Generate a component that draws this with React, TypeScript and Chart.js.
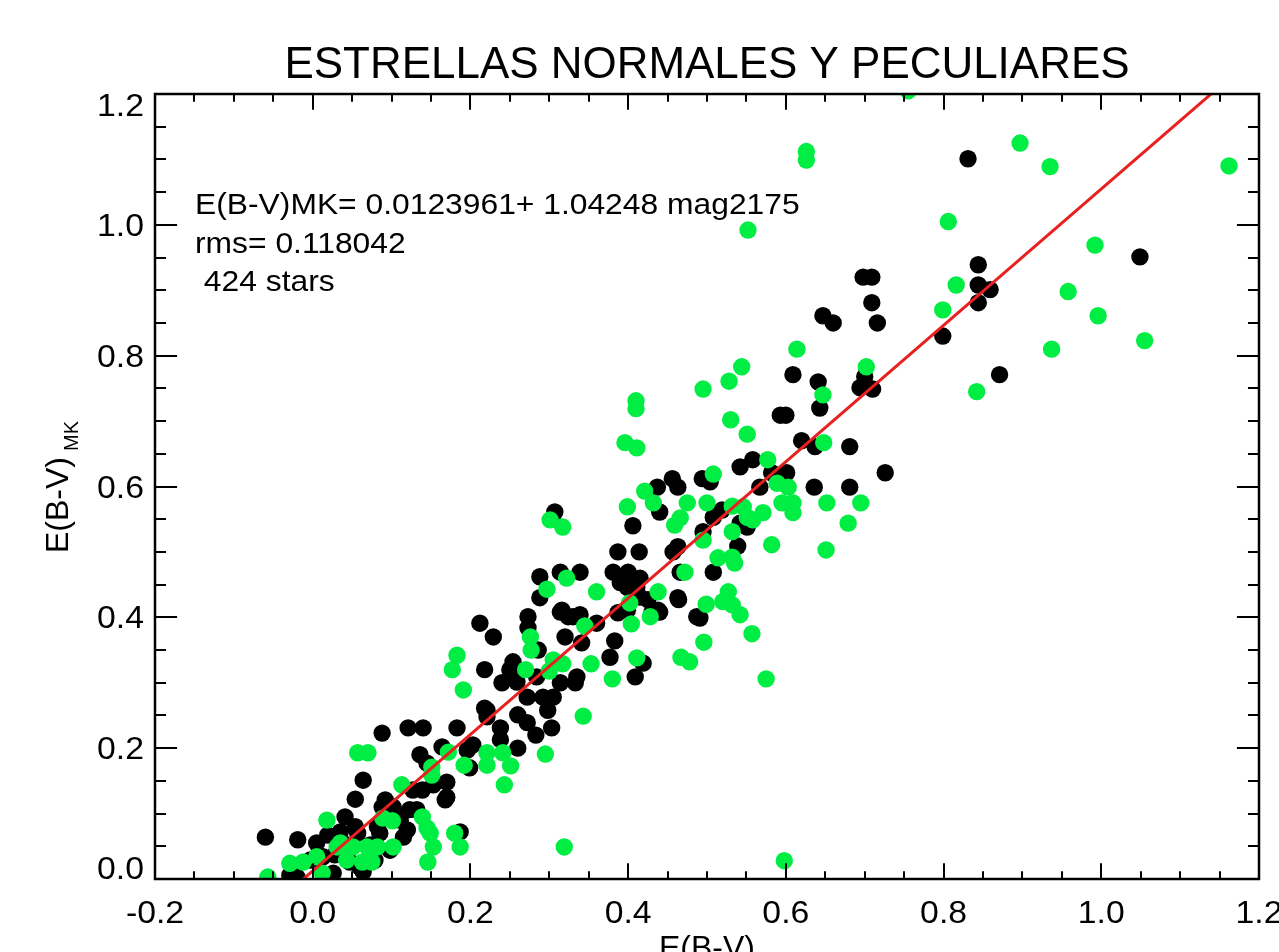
import { useEffect, useRef } from 'react';
import { Chart, registerables } from 'chart.js';

Chart.register(...registerables);

// ---------- text ----------
const CHART_TITLE = 'ESTRELLAS NORMALES Y PECULIARES';
const X_AXIS_TITLE = 'E(B-V)';
const Y_AXIS_TITLE = 'E(B-V)';
const Y_AXIS_SUBSCRIPT = 'MK';
const FIT_TEXT = ['E(B-V)MK= 0.0123961+ 1.04248 mag2175', 'rms= 0.118042', ' 424 stars'];

// ---------- fit ----------
const FIT_INTERCEPT = 0.0123961;
const FIT_SLOPE = 1.04248;

// ---------- axes ----------
const X_MIN = -0.2;
const X_MAX = 1.2;
const Y_MIN = 0.0;
const Y_MAX = 1.2;
const X_TICK_VALUES = [-0.2, 0.0, 0.2, 0.4, 0.6, 0.8, 1.0, 1.2];
const X_TICK_LABELS = ['-0.2', '0.0', '0.2', '0.4', '0.6', '0.8', '1.0', '1.2'];
const Y_TICK_VALUES = [0.0, 0.2, 0.4, 0.6, 0.8, 1.0, 1.2];
const Y_TICK_LABELS = ['0.0', '0.2', '0.4', '0.6', '0.8', '1.0', '1.2'];
const MINOR_PER_MAJOR = 4;

// ---------- data: normal stars (black) ----------
const normalX = [
  0.831, 1.049, 0.844, 0.844, 0.859, 0.844, 0.698, 0.709, 0.709, 0.647,
  0.660, 0.716, 0.799, 0.871, 0.609, 0.700, 0.694, 0.710, 0.641, 0.643,
  0.593, 0.600, 0.620, 0.637, 0.681, 0.726, 0.558, 0.542, 0.601, 0.582,
  0.567, 0.636, 0.681, 0.437, 0.456, 0.463, 0.494, 0.504, 0.440, 0.519,
  0.508, 0.551, 0.542, 0.307, 0.406, 0.495, 0.463, 0.457, 0.539, 0.387,
  0.414, 0.466, 0.508, 0.314, 0.339, 0.381, 0.400, 0.390, 0.415, 0.288,
  0.399, 0.411, 0.415, 0.425, 0.463, 0.440, 0.430, 0.314, 0.330, 0.487,
  0.288, 0.316, 0.324, 0.339, 0.273, 0.360, 0.387, 0.399, 0.438, 0.464,
  0.491, 0.212, 0.229, 0.273, 0.286, 0.320, 0.341, 0.218, 0.254, 0.250,
  0.284, 0.240, 0.259, 0.314, 0.335, 0.333, 0.377, 0.383, 0.419, 0.409,
  0.272, 0.292, 0.305, 0.298, 0.221, 0.260, 0.272, 0.238, 0.283, 0.303,
  0.260, 0.238, 0.221, 0.183, 0.121, 0.140, 0.088, 0.136, 0.164, 0.196,
  0.203, 0.199, 0.064, 0.054, 0.092, 0.088, 0.127, 0.139, 0.153, 0.170,
  0.170, 0.168, 0.145, 0.123, 0.102, 0.107, 0.041, 0.035, 0.054, 0.057,
  0.082, 0.085, 0.111, 0.120, 0.115, 0.132, 0.187, -0.060, -0.019, 0.005,
  0.019, 0.038, -0.029, -0.020, 0.026, 0.064, 0.060, 0.013, 0.218, -0.003,
  0.028, 0.047, 0.073, 0.098, 0.079,
];
const normalY = [
  1.101, 0.951, 0.939, 0.908, 0.901, 0.881, 0.920, 0.920, 0.881, 0.861,
  0.850, 0.850, 0.830, 0.771, 0.771, 0.768, 0.751, 0.749, 0.760, 0.720,
  0.709, 0.709, 0.670, 0.661, 0.661, 0.621, 0.641, 0.630, 0.621, 0.621,
  0.599, 0.599, 0.599, 0.599, 0.612, 0.599, 0.612, 0.607, 0.561, 0.564,
  0.553, 0.538, 0.544, 0.561, 0.540, 0.531, 0.508, 0.500, 0.509, 0.500,
  0.500, 0.469, 0.469, 0.469, 0.469, 0.469, 0.469, 0.453, 0.460, 0.462,
  0.446, 0.446, 0.431, 0.427, 0.430, 0.408, 0.407, 0.408, 0.401, 0.401,
  0.430, 0.411, 0.401, 0.404, 0.401, 0.391, 0.407, 0.411, 0.411, 0.427,
  0.399, 0.391, 0.370, 0.384, 0.350, 0.370, 0.361, 0.320, 0.332, 0.320,
  0.309, 0.300, 0.301, 0.300, 0.309, 0.300, 0.339, 0.364, 0.330, 0.309,
  0.278, 0.278, 0.278, 0.258, 0.258, 0.251, 0.239, 0.231, 0.220, 0.231,
  0.200, 0.213, 0.248, 0.231, 0.231, 0.231, 0.223, 0.190, 0.202, 0.197,
  0.205, 0.170, 0.151, 0.122, 0.121, 0.110, 0.136, 0.136, 0.144, 0.148,
  0.125, 0.121, 0.177, 0.106, 0.110, 0.098, 0.095, 0.072, 0.080, 0.070,
  0.080, 0.070, 0.090, 0.075, 0.064, 0.106, 0.072, 0.064, 0.060, 0.055,
  0.067, 0.055, 0.006, 0.003, 0.009, 0.011, 0.018, 0.034, 0.261, 0.029,
  0.037, 0.026, 0.052, 0.044, 0.029,
];

// ---------- data: peculiar stars (green) ----------
const peculiarX = [
  0.755, 0.626, 0.626, 0.897, 0.935, 1.162, 0.552, 0.806, 0.992, 0.816,
  0.958, 0.799, 0.996, 0.937, 1.055, 0.842, 0.614, 0.702, 0.647, 0.544,
  0.528, 0.495, 0.410, 0.410, 0.530, 0.551, 0.396, 0.411, 0.648, 0.577,
  0.589, 0.603, 0.652, 0.695, 0.679, 0.651, 0.508, 0.421, 0.432, 0.475,
  0.500, 0.399, 0.532, 0.546, 0.551, 0.558, 0.571, 0.595, 0.609, 0.609,
  0.301, 0.317, 0.459, 0.466, 0.532, 0.495, 0.582, 0.514, 0.532, 0.535,
  0.472, 0.322, 0.297, 0.360, 0.438, 0.402, 0.527, 0.520, 0.532, 0.499,
  0.542, 0.428, 0.345, 0.404, 0.557, 0.496, 0.467, 0.478, 0.575, 0.276,
  0.277, 0.305, 0.317, 0.300, 0.353, 0.270, 0.380, 0.411, 0.183, 0.177,
  0.191, 0.343, 0.221, 0.221, 0.241, 0.251, 0.295, 0.243, 0.319, 0.598,
  0.057, 0.070, 0.172, 0.192, 0.113, 0.151, 0.151, 0.089, 0.101, 0.018,
  0.035, 0.051, 0.082, 0.102, 0.139, 0.145, 0.149, 0.153, 0.146, 0.180,
  0.187, 0.031, -0.029, -0.012, 0.005, 0.012, -0.057, 0.043, 0.063, 0.075,
  0.069,
];
const peculiarY = [
  1.205, 1.112, 1.099, 1.125, 1.089, 1.090, 0.992, 1.005, 0.969, 0.908,
  0.898, 0.870, 0.861, 0.810, 0.823, 0.745, 0.810, 0.783, 0.740, 0.783,
  0.761, 0.749, 0.731, 0.719, 0.702, 0.680, 0.667, 0.659, 0.667, 0.641,
  0.605, 0.599, 0.575, 0.575, 0.544, 0.503, 0.619, 0.593, 0.575, 0.575,
  0.575, 0.569, 0.570, 0.569, 0.553, 0.549, 0.560, 0.575, 0.575, 0.560,
  0.549, 0.538, 0.541, 0.552, 0.531, 0.518, 0.511, 0.491, 0.492, 0.483,
  0.469, 0.460, 0.443, 0.439, 0.439, 0.422, 0.439, 0.424, 0.419, 0.420,
  0.404, 0.401, 0.387, 0.390, 0.375, 0.362, 0.339, 0.332, 0.306, 0.370,
  0.350, 0.335, 0.329, 0.318, 0.329, 0.320, 0.306, 0.338, 0.342, 0.320,
  0.289, 0.249, 0.193, 0.174, 0.193, 0.173, 0.191, 0.144, 0.049, 0.028,
  0.193, 0.193, 0.194, 0.174, 0.144, 0.171, 0.159, 0.093, 0.089, 0.090,
  0.055, 0.049, 0.049, 0.049, 0.095, 0.078, 0.070, 0.049, 0.026, 0.070,
  0.049, 0.049, 0.024, 0.026, 0.034, 0.009, 0.003, 0.029, 0.026, 0.026,
  0.049,
];

// ---------- styling ----------
const FONT_FAMILY = '"Liberation Sans", Arial, Helvetica, sans-serif';
const BLACK = '#000000';
const GREEN = 'rgb(0, 238, 68)';
const RED = 'rgb(232, 32, 32)';

function toPoints(xs: number[], ys: number[]) {
  const n = Math.min(xs.length, ys.length);
  const out: { x: number; y: number }[] = [];
  for (let i = 0; i < n; i++) out.push({ x: xs[i], y: ys[i] });
  return out;
}

function drawText(
  ctx: CanvasRenderingContext2D,
  text: string,
  x: number,
  y: number,
  size: number,
  align: CanvasTextAlign,
  stretch = 1,
  targetWidth?: number
) {
  ctx.save();
  ctx.font = `${size}px ${FONT_FAMILY}`;
  let sx = stretch;
  if (targetWidth) {
    const w = ctx.measureText(text).width;
    if (w > 0) sx = targetWidth / w;
  }
  ctx.translate(x, y);
  ctx.scale(sx, 1);
  ctx.textAlign = align;
  ctx.textBaseline = 'alphabetic';
  ctx.fillStyle = BLACK;
  ctx.fillText(text, 0, 0);
  ctx.restore();
}

const idlFramePlugin = {
  id: 'idlFrame',
  afterDraw(chart: any) {
    const { ctx, chartArea: a, scales } = chart;
    const xs = scales.x;
    const ys = scales.y;
    ctx.save();
    ctx.strokeStyle = BLACK;
    ctx.lineCap = 'butt';

    // tick marks (inward, all four sides)
    const xMajorLen = (a.bottom - a.top) * 0.02;
    const yMajorLen = (a.right - a.left) * 0.02;
    ctx.lineWidth = 2;
    ctx.beginPath();
    const xStep = (X_TICK_VALUES[1] - X_TICK_VALUES[0]) / MINOR_PER_MAJOR;
    for (let i = 0; i < X_TICK_VALUES.length; i++) {
      for (let k = 0; k < MINOR_PER_MAJOR; k++) {
        if (i === X_TICK_VALUES.length - 1 && k > 0) break;
        const px = Math.round(xs.getPixelForValue(X_TICK_VALUES[i] + k * xStep));
        const len = k === 0 ? xMajorLen : xMajorLen / 2;
        ctx.moveTo(px, a.bottom);
        ctx.lineTo(px, a.bottom - len);
        ctx.moveTo(px, a.top);
        ctx.lineTo(px, a.top + len);
      }
    }
    const yStep = (Y_TICK_VALUES[1] - Y_TICK_VALUES[0]) / MINOR_PER_MAJOR;
    for (let i = 0; i < Y_TICK_VALUES.length; i++) {
      for (let k = 0; k < MINOR_PER_MAJOR; k++) {
        if (i === Y_TICK_VALUES.length - 1 && k > 0) break;
        const py = Math.round(ys.getPixelForValue(Y_TICK_VALUES[i] + k * yStep));
        const len = k === 0 ? yMajorLen : yMajorLen / 2;
        ctx.moveTo(a.left, py);
        ctx.lineTo(a.left + len, py);
        ctx.moveTo(a.right, py);
        ctx.lineTo(a.right - len, py);
      }
    }
    ctx.stroke();

    // frame
    ctx.lineWidth = 2.5;
    ctx.strokeRect(a.left, a.top, a.right - a.left, a.bottom - a.top);
    ctx.restore();

    // tick labels
    const tickSize = 31;
    const tickStretch = 1.09;
    X_TICK_VALUES.forEach((v, i) => {
      const px = xs.getPixelForValue(v);
      drawText(ctx, X_TICK_LABELS[i], px, a.bottom + 44, tickSize, 'center', tickStretch);
    });
    Y_TICK_VALUES.forEach((v, i) => {
      const py = ys.getPixelForValue(v);
      const c = Math.min(Math.max(py, a.top + 11), a.bottom - 11);
      drawText(ctx, Y_TICK_LABELS[i], a.left - 11, c + 11, tickSize, 'right', tickStretch);
    });

    // title
    const cx = (a.left + a.right) / 2;
    drawText(ctx, CHART_TITLE, cx, 78, 44, 'center', 1, 845);

    // x axis title
    drawText(ctx, X_AXIS_TITLE, cx, a.bottom + 79, 32, 'center');

    // y axis title with subscript
    ctx.save();
    ctx.translate(68, 553);
    ctx.rotate(-Math.PI / 2);
    ctx.fillStyle = BLACK;
    ctx.textAlign = 'left';
    ctx.textBaseline = 'alphabetic';
    ctx.font = `32px ${FONT_FAMILY}`;
    ctx.fillText(Y_AXIS_TITLE, 0, 0);
    const w = ctx.measureText(Y_AXIS_TITLE).width;
    ctx.font = `20px ${FONT_FAMILY}`;
    ctx.fillText(Y_AXIS_SUBSCRIPT, w + 6, 10);
    ctx.restore();

    // fit annotation
    const annStretch = 1.06;
    const baselines = [214, 253, 291];
    FIT_TEXT.forEach((t, i) => {
      drawText(ctx, t, 195, baselines[i], 30, 'left', annStretch);
    });
  },
};

export default function App() {
  const canvasRef = useRef<HTMLCanvasElement | null>(null);

  useEffect(() => {
    document.body.style.margin = '0';
    const canvas = canvasRef.current;
    if (!canvas) return;

    const fitLine = [
      { x: X_MIN, y: FIT_INTERCEPT + FIT_SLOPE * X_MIN },
      { x: X_MAX, y: FIT_INTERCEPT + FIT_SLOPE * X_MAX },
    ];

    const chart = new Chart(canvas, {
      type: 'scatter',
      data: {
        datasets: [
          {
            type: 'line',
            label: 'fit',
            data: fitLine,
            borderColor: RED,
            borderWidth: 3,
            pointRadius: 0,
            fill: false,
            order: 0,
          } as any,
          {
            label: 'peculiares',
            data: toPoints(peculiarX, peculiarY),
            backgroundColor: GREEN,
            borderWidth: 0,
            pointRadius: 8.7,
            pointHoverRadius: 8.7,
            order: 1,
          },
          {
            label: 'normales',
            data: toPoints(normalX, normalY),
            backgroundColor: BLACK,
            borderWidth: 0,
            pointRadius: 8.7,
            pointHoverRadius: 8.7,
            order: 2,
          },
        ],
      },
      options: {
        responsive: false,
        animation: false,
        events: [],
        layout: { padding: { left: 155, right: 20, top: 94, bottom: 73 } },
        plugins: {
          legend: { display: false },
          tooltip: { enabled: false },
          title: { display: false },
        },
        scales: {
          x: { type: 'linear', min: X_MIN, max: X_MAX, display: false },
          y: { type: 'linear', min: Y_MIN, max: Y_MAX, display: false },
        },
      },
      plugins: [idlFramePlugin],
    });

    return () => chart.destroy();
  }, []);

  return (
    <div style={{ position: 'absolute', left: 0, top: 0, width: 1279, height: 952, background: '#fff' }}>
      <canvas ref={canvasRef} width={1279} height={952} style={{ display: 'block' }} />
    </div>
  );
}
